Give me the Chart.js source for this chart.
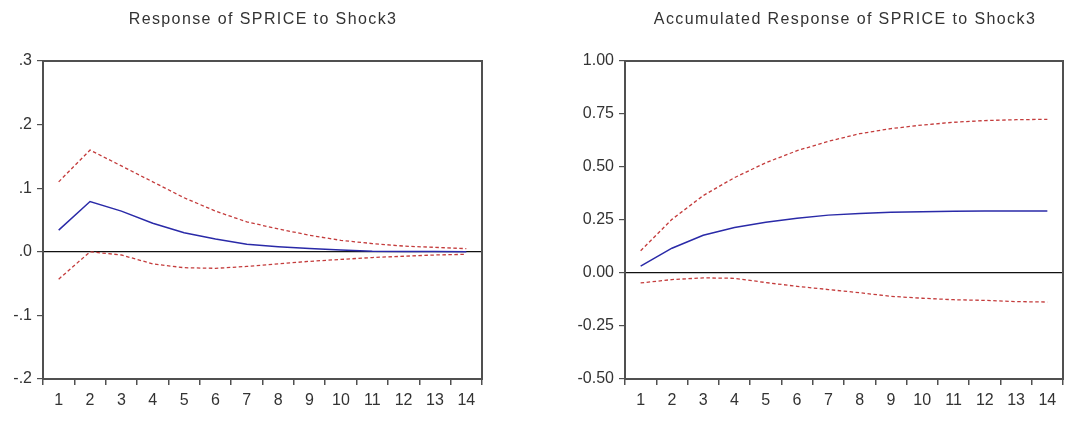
<!DOCTYPE html>
<html>
<head>
<meta charset="utf-8">
<script src="https://cdn.jsdelivr.net/npm/chart.js@4/dist/chart.umd.min.js"></script>
<style>
  html, body { margin: 0; padding: 0; background: #fff; }
  #wrap { position: relative; width: 1070px; height: 421px; overflow: hidden; }
  canvas { position: absolute; top: 0; }
  .title {
    position: absolute; top: 10px; white-space: nowrap;
    font-family: 'Liberation Sans', Arial, sans-serif; font-size: 16px;
    letter-spacing: 1.4px; color: #333; transform: translateX(-50%);
  }
</style>
</head>
<body>
<div id="wrap">
  <canvas id="left" width="535" height="421" style="left:0"></canvas>
  <canvas id="right" width="535" height="421" style="left:535px"></canvas>
  <div class="title" style="left:263px">Response of SPRICE to Shock3</div>
  <div class="title" style="left:845px">Accumulated Response of SPRICE to Shock3</div>
</div>
<script>
// Forecast horizon
const periods = ['1', '2', '3', '4', '5', '6', '7', '8', '9', '10', '11', '12', '13', '14'];

// Impulse response with ±2 S.E. bands
const response      = [0.034, 0.079, 0.064, 0.045, 0.030, 0.020, 0.012, 0.008, 0.005, 0.003, 0.001, 0.0005, 0.0003, 0.0002];
const responseUpper = [0.110, 0.160, 0.135, 0.110, 0.085, 0.064, 0.047, 0.036, 0.026, 0.018, 0.013, 0.009, 0.007, 0.005];
const responseLower = [-0.043, 0.000, -0.005, -0.019, -0.025, -0.026, -0.023, -0.019, -0.015, -0.012, -0.009, -0.007, -0.005, -0.004];

// Accumulated response with ±2 S.E. bands
const accumulated      = [0.032, 0.117, 0.178, 0.215, 0.239, 0.258, 0.273, 0.281, 0.286, 0.289, 0.291, 0.292, 0.293, 0.293];
const accumulatedUpper = [0.105, 0.253, 0.365, 0.450, 0.520, 0.577, 0.621, 0.657, 0.681, 0.698, 0.711, 0.719, 0.723, 0.725];
const accumulatedLower = [-0.047, -0.031, -0.023, -0.025, -0.045, -0.063, -0.078, -0.093, -0.110, -0.119, -0.126, -0.129, -0.135, -0.137];

// Y-axis tick values and their printed labels
const responseTicks       = [-0.2, -0.1, 0.0, 0.1, 0.2, 0.3];
const responseTickLabels  = ['-.2', '-.1', '.0', '.1', '.2', '.3'];
const accumulatedTicks      = [-0.5, -0.25, 0.0, 0.25, 0.5, 0.75, 1.0];
const accumulatedTickLabels = ['-0.50', '-0.25', '0.00', '0.25', '0.50', '0.75', '1.00'];

Chart.defaults.font.family = "'Liberation Sans Narrow', 'Liberation Sans', Arial, sans-serif";
Chart.defaults.color = '#333';

const BLUE = '#2a2aa8';
const RED = '#c43c3c';
const FRAME = '#505050';

// Box around the plotting area
const framePlugin = {
  id: 'frame',
  afterDraw(chart) {
    const a = chart.chartArea, c = chart.ctx;
    c.save();
    c.strokeStyle = FRAME;
    c.lineWidth = 2;
    c.strokeRect(a.left, a.top, a.right - a.left, a.bottom - a.top);
    c.restore();
  }
};

function makeChart(id, mid, upper, lower, ticks, labels, axisWidth, rightPad) {
  const line = (data, color, width, dash) => ({
    data, borderColor: color, borderWidth: width, borderDash: dash,
    pointRadius: 0, tension: 0, fill: false
  });
  return new Chart(document.getElementById(id), {
    type: 'line',
    data: {
      labels: periods,
      datasets: [
        line(upper, RED, 1.3, [3.5, 2.5]),
        line(lower, RED, 1.3, [3.5, 2.5]),
        line(mid, BLUE, 1.5, [])
      ]
    },
    options: {
      responsive: false,
      animation: false,
      devicePixelRatio: 1,
      layout: { autoPadding: false, padding: { top: 61, right: rightPad, bottom: 0, left: 0 } },
      plugins: { legend: { display: false }, tooltip: { enabled: false }, title: { display: false } },
      scales: {
        x: {
          offset: true,
          grid: { offset: true, drawOnChartArea: false, drawTicks: true, tickLength: 6, tickColor: FRAME, lineWidth: 1.5 },
          border: { display: false },
          ticks: { font: { size: 16 }, padding: 6, maxRotation: 0, autoSkip: false },
          afterFit(s) { s.height = 42; }
        },
        y: {
          min: ticks[0], max: ticks[ticks.length - 1],
          afterBuildTicks(s) { s.ticks = ticks.map(v => ({ value: v })); },
          grid: {
            drawTicks: true, tickLength: 6, tickColor: FRAME, lineWidth: 1.2,
            color: ctx => (ctx.tick && ctx.tick.value === 0 ? '#111' : 'rgba(0,0,0,0)')
          },
          border: { display: false },
          ticks: { font: { size: 16 }, padding: 5, callback: (v, i) => labels[i] },
          afterFit(s) { s.width = axisWidth; }
        }
      }
    },
    plugins: [framePlugin]
  });
}

makeChart('left', response, responseUpper, responseLower, responseTicks, responseTickLabels, 43, 53);
makeChart('right', accumulated, accumulatedUpper, accumulatedLower, accumulatedTicks, accumulatedTickLabels, 90, 7);
</script>
</body>
</html>
